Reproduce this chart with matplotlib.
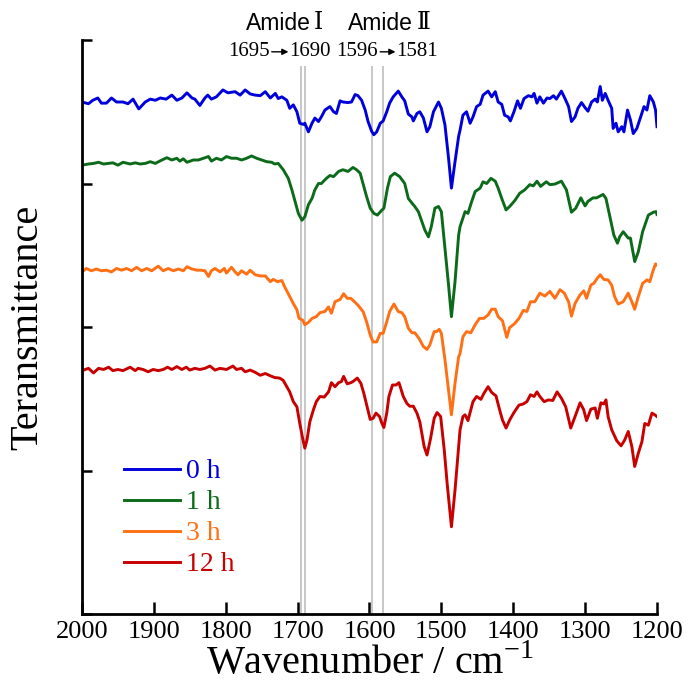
import numpy as np
import matplotlib.pyplot as plt

# FTIR spectra, offset-stacked transmittance (a.u.)
wn_0h = [2000, 1991, 1985, 1978, 1973, 1966, 1959, 1952, 1943, 1936, 1929, 1921, 1912, 1905, 1898,
         1891, 1883, 1875, 1868, 1861, 1854, 1847, 1843, 1836, 1829, 1825, 1820, 1813, 1804, 1797,
         1787, 1780, 1773, 1766, 1759, 1752, 1745, 1738, 1731, 1727, 1722, 1715, 1711, 1706, 1701,
         1697, 1692, 1690, 1685, 1680, 1676, 1671, 1667, 1662, 1655, 1650, 1646, 1641, 1637, 1630,
         1625, 1620, 1616, 1611, 1606, 1602, 1597, 1594, 1590, 1585, 1581, 1576, 1572, 1567, 1560,
         1555, 1551, 1546, 1541, 1539, 1534, 1530, 1525, 1520, 1516, 1511, 1504, 1500, 1495, 1490,
         1486, 1481, 1476, 1474, 1470, 1465, 1460, 1456, 1451, 1446, 1442, 1435, 1430, 1425, 1421,
         1416, 1412, 1407, 1404, 1399, 1394, 1390, 1385, 1379, 1374, 1371, 1367, 1363, 1358, 1353,
         1349, 1344, 1340, 1333, 1328, 1323, 1319, 1314, 1310, 1305, 1300, 1296, 1291, 1286, 1283,
         1279, 1276, 1272, 1268, 1263, 1261, 1257, 1254, 1249, 1246, 1241, 1237, 1233, 1228, 1224,
         1218, 1214, 1210, 1205, 1202, 1200]
t_0h = [89.2, 88.9, 89.5, 89.9, 89.0, 89.0, 89.9, 89.2, 89.2, 88.9, 89.7, 88.0, 89.2, 89.7, 89.5,
        89.9, 89.7, 90.4, 89.5, 89.9, 90.8, 89.9, 89.7, 88.6, 89.9, 90.4, 89.7, 90.1, 91.3, 90.8,
        91.0, 90.4, 91.3, 90.6, 90.4, 90.3, 91.0, 89.9, 90.7, 89.8, 90.1, 89.5, 88.1, 88.7, 87.5,
        85.5, 85.3, 85.5, 84.0, 85.5, 86.4, 85.8, 86.6, 87.8, 88.4, 87.5, 87.2, 89.4, 89.2, 89.1,
        89.2, 90.5, 90.3, 89.5, 87.8, 85.8, 84.1, 83.5, 84.0, 85.5, 85.9, 87.5, 89.0, 90.1, 91.1,
        90.1, 89.4, 87.1, 86.6, 85.9, 87.2, 87.5, 86.4, 84.0, 84.9, 87.5, 89.2, 88.1, 85.2, 79.4,
        74.2, 78.8, 83.2, 84.3, 86.9, 87.5, 85.5, 86.6, 88.4, 88.8, 90.4, 91.1, 90.1, 91.0, 89.2,
        88.8, 86.9, 86.6, 85.9, 87.5, 89.4, 88.1, 89.8, 90.3, 90.1, 90.7, 89.0, 90.1, 89.0, 89.9,
        89.8, 90.3, 89.7, 91.1, 89.8, 88.4, 85.8, 86.6, 88.1, 89.1, 88.2, 87.6, 89.2, 89.7, 89.2,
        91.9, 89.5, 90.7, 89.5, 88.1, 84.6, 85.5, 84.0, 84.9, 84.0, 87.8, 86.1, 83.7, 84.6, 86.1,
        88.4, 87.8, 90.3, 89.2, 87.8, 84.9]

wn_1h = [2000, 1991, 1984, 1977, 1970, 1963, 1957, 1950, 1943, 1933, 1926, 1919, 1912, 1905, 1898,
         1892, 1882, 1875, 1868, 1864, 1859, 1854, 1845, 1838, 1831, 1824, 1820, 1813, 1806, 1799,
         1792, 1785, 1778, 1771, 1764, 1757, 1750, 1743, 1736, 1732, 1727, 1720, 1713, 1708, 1704,
         1699, 1694, 1690, 1685, 1680, 1676, 1671, 1667, 1660, 1655, 1650, 1643, 1637, 1630, 1623,
         1618, 1613, 1609, 1604, 1599, 1594, 1589, 1584, 1580, 1575, 1571, 1565, 1558, 1551, 1546,
         1541, 1537, 1532, 1527, 1523, 1518, 1514, 1509, 1504, 1500, 1495, 1490, 1486, 1481, 1476,
         1474, 1467, 1463, 1458, 1453, 1446, 1442, 1437, 1431, 1425, 1421, 1416, 1410, 1405, 1398,
         1391, 1384, 1377, 1372, 1367, 1362, 1354, 1349, 1342, 1333, 1326, 1319, 1313, 1306, 1300,
         1296, 1289, 1284, 1275, 1271, 1265, 1260, 1255, 1252, 1247, 1240, 1237, 1231, 1226, 1220,
         1212, 1205, 1201, 1200]
t_1h = [78.2, 78.4, 78.5, 78.7, 78.4, 78.5, 78.6, 78.2, 78.7, 78.4, 78.6, 78.4, 78.5, 78.8, 78.5,
        78.9, 79.5, 79.1, 79.4, 78.9, 79.3, 78.7, 79.1, 79.1, 79.4, 79.7, 78.9, 79.4, 79.1, 79.7,
        79.4, 79.4, 79.1, 79.4, 79.8, 79.4, 79.1, 78.8, 78.7, 78.4, 78.5, 77.4, 75.9, 73.9, 72.1,
        69.8, 68.6, 69.2, 71.3, 72.4, 73.9, 75.0, 75.0, 75.9, 76.4, 76.2, 77.1, 77.4, 77.1, 77.8,
        77.4, 76.8, 75.0, 72.7, 70.7, 69.8, 69.5, 70.2, 70.7, 74.2, 76.2, 76.8, 76.2, 75.0, 72.4,
        71.6, 71.0, 70.1, 68.3, 66.9, 65.7, 67.5, 70.7, 71.0, 70.1, 63.7, 57.3, 51.8, 57.9, 66.0,
        67.5, 70.1, 69.8, 71.8, 73.6, 74.2, 75.3, 75.0, 75.9, 75.4, 74.2, 72.4, 70.4, 71.0, 72.0,
        73.3, 73.9, 74.8, 74.6, 75.4, 74.5, 75.3, 74.8, 74.9, 75.4, 73.9, 70.0, 70.7, 72.5, 71.1,
        71.9, 72.5, 72.5, 73.1, 72.4, 68.9, 66.0, 64.6, 65.7, 66.6, 65.5, 65.5, 61.4, 63.1, 66.6,
        69.5, 70.0, 70.1, 69.6]

wn_3h = [2000, 1994, 1987, 1980, 1973, 1966, 1959, 1952, 1945, 1938, 1931, 1924, 1917, 1910, 1903,
         1894, 1887, 1880, 1873, 1866, 1859, 1854, 1847, 1840, 1834, 1829, 1824, 1820, 1815, 1808,
         1802, 1799, 1792, 1787, 1783, 1778, 1771, 1766, 1759, 1752, 1745, 1738, 1734, 1728, 1722,
         1718, 1711, 1706, 1701, 1698, 1693, 1690, 1685, 1680, 1674, 1669, 1662, 1657, 1653, 1648,
         1641, 1636, 1631, 1626, 1620, 1616, 1609, 1604, 1599, 1595, 1590, 1585, 1581, 1576, 1572,
         1566, 1560, 1555, 1551, 1546, 1541, 1537, 1531, 1525, 1520, 1516, 1510, 1507, 1503, 1500,
         1495, 1490, 1486, 1481, 1476, 1474, 1470, 1465, 1459, 1453, 1447, 1441, 1435, 1430, 1425,
         1421, 1415, 1409, 1405, 1398, 1392, 1386, 1381, 1376, 1370, 1363, 1356, 1349, 1342, 1335,
         1329, 1323, 1319, 1314, 1307, 1302, 1298, 1292, 1288, 1283, 1279, 1274, 1268, 1263, 1259,
         1254, 1247, 1240, 1235, 1231, 1226, 1220, 1214, 1210, 1206, 1202, 1200]
t_3h = [59.6, 60.2, 59.8, 60.1, 59.8, 59.9, 59.6, 60.2, 59.9, 60.2, 59.8, 60.4, 59.8, 60.2, 59.8,
        60.6, 59.8, 60.2, 59.8, 60.1, 59.8, 60.5, 60.1, 59.9, 59.9, 59.8, 58.8, 59.8, 60.2, 59.6,
        60.2, 59.4, 60.4, 59.6, 59.1, 59.8, 59.2, 59.9, 59.1, 58.9, 58.9, 57.9, 58.3, 57.9, 58.1,
        57.0, 55.3, 54.1, 53.0, 51.5, 51.2, 50.4, 50.8, 51.5, 51.8, 52.5, 52.7, 53.5, 52.4, 54.4,
        54.8, 55.8, 55.0, 55.0, 54.3, 53.8, 52.7, 50.9, 48.6, 47.4, 47.4, 48.9, 48.9, 50.9, 52.7,
        54.0, 52.7, 52.5, 51.8, 49.8, 49.0, 49.0, 48.0, 46.6, 46.1, 46.9, 49.2, 49.2, 49.6, 48.9,
        44.3, 39.0, 34.7, 40.2, 44.8, 45.4, 48.3, 49.2, 49.0, 50.4, 51.5, 51.5, 52.1, 53.1, 53.1,
        51.8, 51.1, 48.2, 49.9, 50.6, 51.5, 52.9, 52.7, 54.4, 54.4, 55.9, 55.4, 56.2, 55.0, 56.5,
        55.9, 54.4, 51.9, 54.1, 55.6, 56.3, 55.0, 57.3, 57.6, 58.5, 59.1, 58.3, 58.2, 57.3, 55.3,
        54.0, 54.4, 55.9, 54.4, 53.1, 55.3, 57.6, 58.2, 57.9, 59.6, 61.0, 60.8]

wn_12h = [2000, 1991, 1984, 1977, 1970, 1963, 1957, 1950, 1943, 1933, 1926, 1922, 1915, 1908, 1901,
          1894, 1887, 1881, 1875, 1868, 1861, 1855, 1850, 1843, 1836, 1829, 1822, 1815, 1808, 1799,
          1790, 1785, 1778, 1773, 1766, 1759, 1752, 1745, 1738, 1732, 1725, 1720, 1715, 1711, 1706,
          1701, 1697, 1693, 1690, 1687, 1683, 1678, 1674, 1669, 1663, 1657, 1653, 1648, 1643, 1639,
          1636, 1631, 1626, 1623, 1617, 1612, 1608, 1603, 1599, 1595, 1591, 1586, 1583, 1580, 1576,
          1573, 1568, 1563, 1559, 1553, 1548, 1544, 1539, 1534, 1530, 1524, 1520, 1515, 1510, 1506,
          1501, 1496, 1492, 1486, 1481, 1476, 1474, 1470, 1467, 1463, 1456, 1451, 1445, 1441, 1435,
          1430, 1424, 1419, 1415, 1410, 1405, 1399, 1392, 1386, 1381, 1376, 1371, 1367, 1363, 1357,
          1351, 1345, 1339, 1333, 1327, 1320, 1314, 1307, 1302, 1298, 1292, 1286, 1283, 1278, 1274,
          1271, 1268, 1263, 1256, 1250, 1245, 1240, 1235, 1231, 1226, 1221, 1217, 1212, 1207, 1203,
          1200]
t_12h = [42.4, 42.8, 42.0, 42.8, 42.6, 43.0, 42.4, 42.6, 42.4, 43.0, 42.4, 42.8, 42.6, 42.2, 42.6,
         42.4, 42.6, 43.0, 42.6, 43.1, 42.6, 43.0, 42.5, 42.8, 42.6, 42.8, 43.2, 42.5, 42.8, 42.6,
         43.2, 42.6, 42.8, 42.2, 42.5, 42.1, 41.6, 41.9, 41.5, 41.2, 41.1, 40.7, 39.6, 38.7, 37.0,
         36.1, 33.2, 30.6, 28.9, 30.3, 33.5, 35.6, 37.0, 37.9, 37.8, 38.7, 40.3, 39.6, 40.3, 40.5,
         41.4, 40.1, 40.3, 40.5, 41.1, 40.2, 38.5, 35.9, 33.9, 34.1, 35.0, 34.4, 33.3, 32.5, 35.0,
         37.9, 39.9, 39.9, 40.3, 37.9, 36.7, 36.2, 36.2, 35.0, 33.5, 29.2, 27.7, 30.6, 34.1, 35.1,
         34.4, 28.6, 22.8, 15.2, 21.6, 29.2, 32.1, 34.4, 34.7, 33.7, 37.0, 37.9, 37.4, 38.4, 39.6,
         38.6, 38.0, 35.6, 33.8, 32.4, 33.8, 35.1, 36.4, 36.6, 37.0, 38.2, 37.9, 38.7, 37.9, 37.0,
         37.3, 37.2, 38.7, 37.6, 36.1, 32.4, 34.4, 36.8, 35.6, 33.7, 35.7, 35.9, 34.1, 36.8, 36.6,
         37.3, 34.4, 32.1, 30.2, 29.3, 30.3, 31.8, 29.2, 25.7, 28.0, 30.0, 33.2, 32.9, 35.0, 34.7,
         34.4]

labels = ['0 h', '1 h', '3 h', '12 h']
colors = ['#0000dc', '#0c6b1a', '#ff7014', '#c80000']
marker_lines = [1695, 1690, 1596, 1581]

serif = ['Liberation Serif', 'DejaVu Serif']
plt.rcParams['font.family'] = serif
plt.rcParams['mathtext.fontset'] = 'custom'
plt.rcParams['mathtext.rm'] = 'Liberation Serif'

fig = plt.figure(figsize=(6.95, 6.91), dpi=100)
ax = fig.add_axes([0.118, 0.1114, 0.8273, 0.8307])

for wn, t, lab, c in zip([wn_0h, wn_1h, wn_3h, wn_12h], [t_0h, t_1h, t_3h, t_12h], labels, colors):
    ax.plot(wn, t, color=c, lw=2.1, label=lab, solid_joinstyle='round')

ax.vlines(marker_lines, 0, 95.5, colors='#b8b8b8', lw=1.1, zorder=0)

ax.set_xlim(2000, 1200)
ax.set_ylim(0, 100)
ax.set_xticks(np.arange(2000, 1199, -100))
ax.set_yticks([0, 25, 50, 75, 100])
ax.set_yticklabels([])
ax.tick_params(axis='x', direction='in', length=9, width=1.8, labelsize=19, pad=5)
ax.tick_params(axis='y', direction='in', length=7, width=1.8)
for s in ['top', 'right']:
    ax.spines[s].set_visible(False)
for s in ['left', 'bottom']:
    ax.spines[s].set_linewidth(2.0)

ax.set_xlabel('Wavenumber / cm$^{\\mathrm{-1}}$', fontsize=29, labelpad=1)
ax.set_ylabel('Teransmittance', fontsize=29, labelpad=22)

leg = ax.legend(loc='upper left', bbox_to_anchor=(0.073, 0.27), frameon=False, fontsize=20,
                handlelength=2.0, handletextpad=0.22, labelspacing=0.2, labelcolor='linecolor',
                borderpad=0, borderaxespad=0)
for h in leg.get_lines():
    h.set_linewidth(2.1)

# band labels above the plot: "Amide" in sans, roman numeral in serif
sans = ['Liberation Sans', 'DejaVu Sans']
ty = 0.9667
for x_word, x_num, numeral in [(0.4475, 0.4515, 'Ⅰ'), (0.5945, 0.5995, 'Ⅱ')]:
    fig.text(x_word, ty, 'Amide', ha='right', va='center', fontsize=16.5, family=sans)
    fig.text(x_num, ty, numeral, ha='left', va='center', fontsize=17,
             family=['Liberation Serif', 'DejaVu Serif'])
ny = 0.925
fig.text(0.3885, ny, '1695', ha='right', va='center', fontsize=15)
fig.text(0.416, ny, '1690', ha='left', va='center', fontsize=15)
fig.text(0.544, ny, '1596', ha='right', va='center', fontsize=15)
fig.text(0.570, ny, '1581', ha='left', va='center', fontsize=15)
for x0, x1 in [(0.391, 0.415), (0.547, 0.569)]:
    ax.annotate('', xy=(x1, ny), xytext=(x0, ny), xycoords='figure fraction',
                arrowprops=dict(arrowstyle='-|>', color='black', lw=1.0, mutation_scale=9,
                                shrinkA=0, shrinkB=0))

fig.savefig('out.png', dpi=100)
